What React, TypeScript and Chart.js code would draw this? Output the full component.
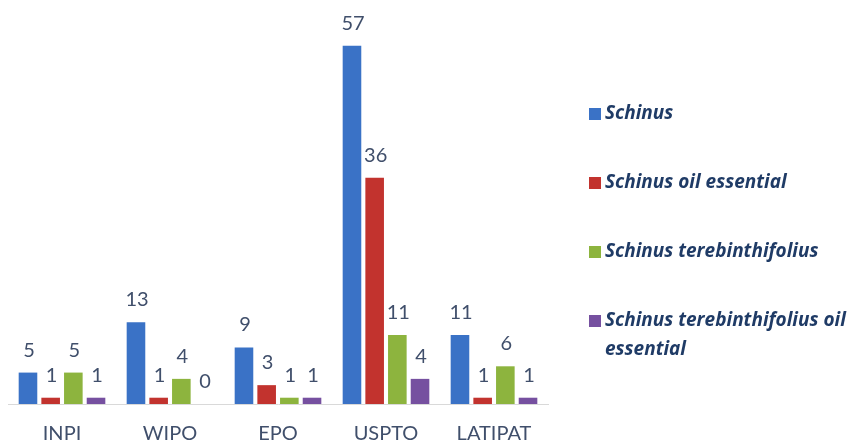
import React, { useEffect, useRef } from "react";
import { Chart, registerables } from "chart.js";

Chart.register(...registerables);

const categories = ["INPI", "WIPO", "EPO", "USPTO", "LATIPAT"];
const seriesNames = [
  "Schinus",
  "Schinus oil essential",
  "Schinus terebinthifolius",
  "Schinus terebinthifolius oil essential",
];
const schinus = [5, 13, 9, 57, 11];
const schinusOil = [1, 1, 3, 36, 1];
const schinusTere = [5, 4, 1, 11, 6];
const schinusTereOil = [1, 0, 1, 4, 1];
const seriesColors = ["#3A72C6", "#C2332E", "#8DB43E", "#7650A0"];

const labelColor = "#404F6B";
const legendColor = "#1F3B66";

const valueLabels = {
  id: "valueLabels",
  afterDatasetsDraw(chart: any) {
    const ctx = chart.ctx;
    ctx.save();
    ctx.font = "20px Lato";
    ctx.fillStyle = labelColor;
    ctx.textAlign = "center";
    ctx.textBaseline = "alphabetic";
    chart.data.datasets.forEach((ds: any, i: number) => {
      const meta = chart.getDatasetMeta(i);
      meta.data.forEach((el: any, j: number) => {
        ctx.fillText(String(ds.data[j]), el.x + 1, el.y - 16);
      });
    });
    ctx.restore();
  },
};

const sideLegend = {
  id: "sideLegend",
  afterDraw(chart: any) {
    const ctx = chart.ctx;
    ctx.save();
    const boxX = 589;
    const textX = 605;
    const startY = 114;
    const step = 69;
    const lineH = 29;
    const maxW = 256;
    ctx.font = "italic bold 19px 'Open Sans'";
    ctx.textBaseline = "middle";
    ctx.textAlign = "left";
    chart.data.datasets.forEach((ds: any, i: number) => {
      const y = startY + i * step;
      ctx.fillStyle = ds.backgroundColor;
      ctx.fillRect(boxX, y - 6, 12, 12);
      const words = String(ds.label).split(" ");
      const lines: string[] = [];
      let cur = "";
      words.forEach((w) => {
        const t = cur ? cur + " " + w : w;
        if (ctx.measureText(t).width > maxW && cur) {
          lines.push(cur);
          cur = w;
        } else cur = t;
      });
      if (cur) lines.push(cur);
      ctx.fillStyle = legendColor;
      lines.forEach((ln, k) => ctx.fillText(ln, textX, y + k * lineH));
    });
    ctx.restore();
  },
};

export default function App() {
  const ref = useRef<HTMLCanvasElement>(null);
  useEffect(() => {
    if (!ref.current) return;
    const values = [schinus, schinusOil, schinusTere, schinusTereOil];
    const chart = new Chart(ref.current, {
      type: "bar",
      data: {
        labels: categories,
        datasets: values.map((v, i) => ({
          label: seriesNames[i],
          data: v,
          backgroundColor: seriesColors[i],
          categoryPercentage: 0.84,
          barPercentage: 0.82,
        })),
      },
      options: {
        animation: false,
        responsive: true,
        maintainAspectRatio: false,
        layout: { padding: { left: 8, right: 306, top: 27, bottom: 0 } },
        plugins: {
          legend: { display: false },
          tooltip: { enabled: false },
        },
        scales: {
          x: {
            grid: { display: false, drawTicks: false },
            border: { display: true, color: "#D9D9D9", width: 1 },
            ticks: {
              color: labelColor,
              font: { family: "Lato", size: 20 },
              padding: 18,
            },
            afterFit: (s: any) => {
              s.height = 37;
            },
          },
          y: {
            display: false,
            min: 0,
            max: 60,
          },
        },
      },
      plugins: [valueLabels, sideLegend],
    });
    return () => chart.destroy();
  }, []);
  return (
    <div style={{ position: "fixed", left: 0, top: 0, width: 854, height: 441, background: "#fff" }}>
      <canvas ref={ref} />
    </div>
  );
}
